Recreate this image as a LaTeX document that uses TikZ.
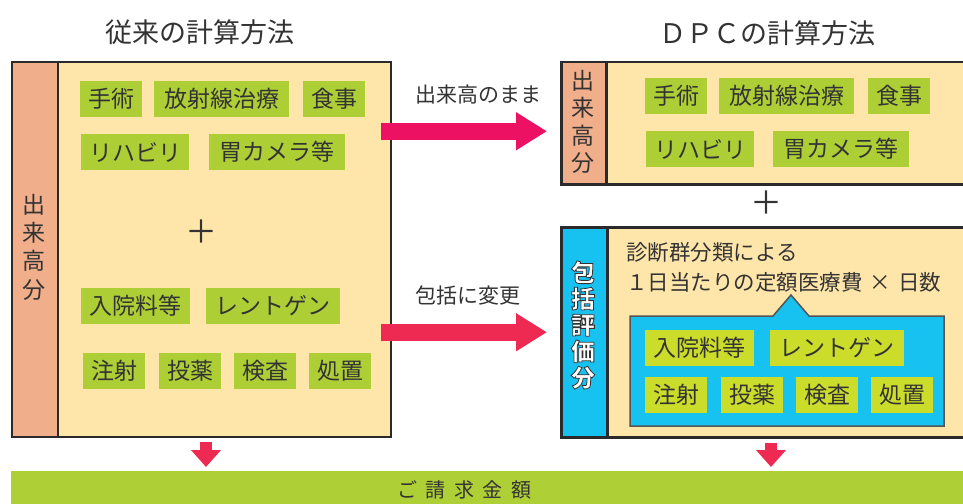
\documentclass[tikz,border=0pt]{standalone}
\usepackage{fontspec}
\setmainfont{Noto Sans CJK JP}
\usetikzlibrary{arrows.meta}
\definecolor{boxfill}{HTML}{FEE6AA}
\definecolor{salmon}{HTML}{F0AE8A}
\definecolor{lime}{HTML}{ADCF35}
\definecolor{yellime}{HTML}{CCDC2A}
\definecolor{sky}{HTML}{17C1F0}
\definecolor{barg}{HTML}{AECF36}
\definecolor{redA}{HTML}{EC1163}
\definecolor{redB}{HTML}{EE2A52}
\definecolor{ink}{HTML}{333333}
\definecolor{frame}{HTML}{2A2A2A}
\newcommand{\olbegin}{\special{pdf:literal direct 2 Tr 0.8 w 0.2 0.2 0.2 RG}}
\newcommand{\olend}{\special{pdf:literal direct 0 Tr}}
\begin{document}
\begin{tikzpicture}[x=1pt,y=-1pt,
  item/.style={fill=lime, text=ink, font=\fontsize{23}{23}\selectfont, minimum height=36pt, inner sep=0pt, anchor=center},
  witem/.style={item, fill=yellime},
  bigbox/.style={draw=frame, line width=2pt, fill=boxfill, anchor=north west, inner sep=0pt},
  stripbox/.style={draw=frame, line width=2pt, anchor=north west, inner sep=0pt},
  vtext/.style={align=center, inner sep=0pt, text=ink, font=\fontsize{23}{28.3}\selectfont},
  title/.style={inner sep=0pt, text=ink, font=\fontsize{27}{27}\selectfont},
  lbl/.style={inner sep=0pt, text=ink, font=\fontsize{21}{21}\selectfont, anchor=west},
  plussign/.style={inner sep=0pt, text=ink, font=\fontsize{32}{32}\selectfont},
  bigarrow/.style={line width=16.5pt, -{Triangle[length=31pt,width=36pt]}},
  downarrow/.style={draw=redB, line width=12pt, -{Triangle[length=17pt,width=29pt]}}
]
\useasboundingbox (0,0) rectangle (963,503);
\fill[white] (0,0) rectangle (963,503);

% titles
\node[title] (ttl1) at (200,32) {従来の計算方法};
\node[title] (ttl2) at (767,33) {ＤＰＣの計算方法};

% left big box
\node[bigbox, minimum width=379pt, minimum height=375pt] (lbox) at (11,61) {};
\node[stripbox, fill=salmon, minimum width=46pt, minimum height=375pt] (lstrip) at (11,61) {};
\node[vtext] (ltext) at (34,247) {出\\来\\高\\分};

\node[item, minimum width=62pt] (l1) at (111,99) {手術};
\node[item, minimum width=135pt] (l2) at (221.5,99) {放射線治療};
\node[item, minimum width=62pt] (l3) at (334,99) {食事};
\node[item, minimum width=108pt] (l4) at (135,152) {リハビリ};
\node[item, minimum width=136pt] (l5) at (277,152) {胃カメラ等};
\node[plussign] (lplus) at (201,232) {＋};
\node[item, minimum width=109pt] (l6) at (135.5,306) {入院料等};
\node[item, minimum width=134pt] (l7) at (273,306) {レントゲン};
\node[item, minimum width=62pt] (l8) at (114,371) {注射};
\node[item, minimum width=62pt] (l9) at (190,371) {投薬};
\node[item, minimum width=62pt] (l10) at (265,371) {検査};
\node[item, minimum width=62pt] (l11) at (340,371) {処置};

% right top box
\node[bigbox, line width=2.5pt, minimum width=415pt, minimum height=122pt] (rtbox) at (560,61) {};
\node[stripbox, line width=2.5pt, fill=salmon, minimum width=45pt, minimum height=122pt] (rtstrip) at (560,61) {};
\node[vtext, font=\fontsize{23}{27.5}\selectfont] (rttext) at (582.5,122) {出\\来\\高\\分};
\node[item, minimum width=62pt] (r1) at (676,96) {手術};
\node[item, minimum width=135pt] (r2) at (786.5,96) {放射線治療};
\node[item, minimum width=62pt] (r3) at (899,96) {食事};
\node[item, minimum width=108pt] (r4) at (700,149) {リハビリ};
\node[item, minimum width=136pt] (r5) at (841,149) {胃カメラ等};

\node[plussign] (rplus) at (766,203) {＋};

% right bottom box
\node[bigbox, line width=2.5pt, minimum width=415pt, minimum height=210pt] (rbbox) at (560,226) {};
\node[stripbox, line width=2.5pt, fill=sky, minimum width=46pt, minimum height=210pt] (rbstrip) at (560,226) {};
\node[vtext, text=white, font=\bfseries\fontsize{24}{26.3}\selectfont] (rbtext) at (583,325) {\olbegin 包\\括\\評\\価\\分\olend};

\node[lbl, font=\fontsize{21.5}{21.5}\selectfont] (desc1) at (626,252) {診断群分類による};
\node[lbl, font=\fontsize{21.5}{21.5}\selectfont] (desc2) at (626,282) {１日当たりの定額医療費\kern7pt×\kern7pt日数};

\filldraw[fill=sky, draw=frame!80, line width=1.5pt]
  (630,316) -- (773,316) -- (791,295) -- (809,316) -- (944,316) -- (944,426) -- (630,426) -- cycle;
\node[witem, minimum width=109pt] (c1) at (699.5,348) {入院料等};
\node[witem, minimum width=134pt] (c2) at (837,348) {レントゲン};
\node[witem, minimum width=62pt] (c3) at (676,395) {注射};
\node[witem, minimum width=62pt] (c4) at (752,395) {投薬};
\node[witem, minimum width=62pt] (c5) at (827,395) {検査};
\node[witem, minimum width=62pt] (c6) at (902,395) {処置};

% horizontal arrows and labels
\node[lbl] (albl1) at (415,95) {出来高のまま};
\node[lbl] (albl2) at (415,295) {包括に変更};
\draw[bigarrow, draw=redA] ([xshift=-11pt,yshift=-8pt]lbox.east |- rtbox.west) -- ([xshift=-13pt,yshift=-8pt]rtbox.west);
\draw[bigarrow, draw=redB] ([xshift=-11pt]lbox.east |- rbbox.west) -- ([xshift=-13pt]rbbox.west);

% bottom bar
\node[fill=barg, anchor=north west, minimum width=960pt, minimum height=34pt, inner sep=0pt] (bar) at (11,471) {};
\node[inner sep=0pt, text=ink, font=\fontsize{20}{20}\selectfont] (barlabel) at (464,490) {ご\kern8.5pt 請\kern8.5pt 求\kern8.5pt 金\kern8.5pt 額};

\draw[downarrow] ([xshift=195pt,yshift=-4pt]lbox.south west) -- ([xshift=195pt,yshift=4pt]lbox.south west |- bar.north);
\draw[downarrow] ([xshift=211pt,yshift=-4pt]rbbox.south west) -- ([xshift=211pt,yshift=4pt]rbbox.south west |- bar.north);
\end{tikzpicture}
\end{document}
